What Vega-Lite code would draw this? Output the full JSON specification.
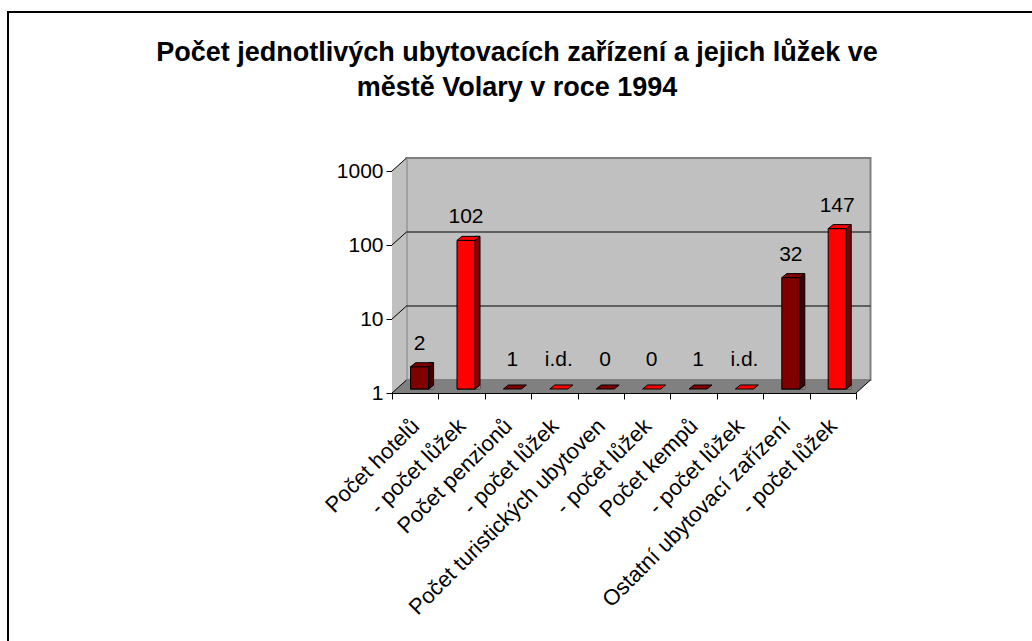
{
  "$schema": "https://vega.github.io/schema/vega-lite/v6.json",
  "width": 1030,
  "height": 639,
  "autosize": {"type": "none"},
  "padding": {"left": 8, "top": 12, "right": -6, "bottom": -10},
  "background": "white",
  "config": {"view": {"stroke": "black", "strokeWidth": 2}, "font": "Liberation Sans"},
  "title": {
    "text": ["Počet jednotlivých ubytovacích zařízení a jejich lůžek ve", "městě Volary v roce 1994"],
    "fontSize": 27, "fontWeight": "bold", "font": "Liberation Sans", "color": "black",
    "anchor": "middle", "frame": "group", "baseline": "top", "offset": -36, "dy": 54, "dx": -6, "lineHeight": 35
  },
  "datasets": {
    "bars": [
      {"cat": "Počet hotelů", "type": "count", "v": 2, "lab": "2"},
      {"cat": "- počet lůžek|1", "type": "beds", "v": 102, "lab": "102"},
      {"cat": "Počet penzionů", "type": "count", "v": 1, "lab": "1"},
      {"cat": "- počet lůžek|2", "type": "beds", "v": null, "lab": "i.d."},
      {"cat": "Počet turistických ubytoven", "type": "count", "v": 0, "lab": "0"},
      {"cat": "- počet lůžek|3", "type": "beds", "v": 0, "lab": "0"},
      {"cat": "Počet kempů", "type": "count", "v": 1, "lab": "1"},
      {"cat": "- počet lůžek|4", "type": "beds", "v": null, "lab": "i.d."},
      {"cat": "Ostatní ubytovací zařízení", "type": "count", "v": 32, "lab": "32"},
      {"cat": "- počet lůžek|5", "type": "beds", "v": 147, "lab": "147"}
    ]
  },
  "layer": [
    {
      "data": {"values": [{}]},
      "layer": [
        {
          "mark": {"type": "rect", "fill": "#C0C0C0", "stroke": "#808080", "strokeWidth": 2, "xOffset": 14.5, "x2Offset": 14.5, "yOffset": -13, "y2Offset": -13},
          "encoding": {
            "x": {"datum": 0, "type": "quantitative", "scale": {"domain": [0, 10], "range": [384, 848], "nice": false, "zero": false}, "axis": null},
            "x2": {"datum": 10},
            "y": {"datum": 1, "type": "quantitative", "scale": {"type": "log", "domain": [1, 1000], "range": [381, 159], "nice": false},
              "axis": {"values": [1, 10, 100, 1000], "format": "d", "title": null, "grid": false, "offset": -384, "tickSize": 6, "tickColor": "black", "domainColor": "black", "labelColor": "black", "labelFontSize": 21, "labelFont": "Liberation Sans", "labelPadding": 3, "labelFlush": false, "labelOverlap": false}},
            "y2": {"datum": 1000}
          }
        },
        {
          "mark": {"type": "point", "shape": "M0,0L1.45,-1.3L1.45,-23.5L0,-22.2Z", "size": 400, "filled": true, "fill": "#C0C0C0", "strokeWidth": 0, "opacity": 1},
          "encoding": {
            "x": {"datum": 0, "type": "quantitative", "scale": {"domain": [0, 10], "range": [384, 848], "nice": false, "zero": false}, "axis": null},
            "y": {"datum": 1, "type": "quantitative", "scale": {"type": "log", "domain": [1, 1000], "range": [381, 159], "nice": false}}
          }
        },
        {
          "mark": {"type": "point", "shape": "M0,0L46.4,0L47.85,-1.3L1.45,-1.3Z", "size": 400, "filled": true, "fill": "#808080", "strokeWidth": 0, "opacity": 1},
          "encoding": {
            "x": {"datum": 0, "type": "quantitative", "scale": {"domain": [0, 10], "range": [384, 848], "nice": false, "zero": false}, "axis": null},
            "y": {"datum": 1, "type": "quantitative", "scale": {"type": "log", "domain": [1, 1000], "range": [381, 159], "nice": false}}
          }
        },
        {
          "mark": {"type": "point", "shape": "M46.4,0L47.85,-1.3", "size": 400, "filled": false, "stroke": "black", "strokeWidth": 1, "opacity": 1},
          "encoding": {
            "x": {"datum": 0, "type": "quantitative", "scale": {"domain": [0, 10], "range": [384, 848], "nice": false, "zero": false}, "axis": null},
            "y": {"datum": 1, "type": "quantitative", "scale": {"type": "log", "domain": [1, 1000], "range": [381, 159], "nice": false}}
          }
        },
        {
          "data": {"values": [{"g": 10}, {"g": 100}]},
          "mark": {"type": "rule", "stroke": "black", "strokeWidth": 1, "xOffset": 14.5, "x2Offset": 14.5, "yOffset": -13},
          "encoding": {
            "x": {"datum": 0, "type": "quantitative", "scale": {"domain": [0, 10], "range": [384, 848], "nice": false, "zero": false}, "axis": null},
            "x2": {"datum": 10},
            "y": {"field": "g", "type": "quantitative", "scale": {"type": "log", "domain": [1, 1000], "range": [381, 159], "nice": false}}
          }
        },
        {
          "data": {"values": [{"g": 1}, {"g": 10}, {"g": 100}, {"g": 1000}]},
          "mark": {"type": "rule", "stroke": "black", "strokeWidth": 1, "x2Offset": 14.5, "y2Offset": -13},
          "encoding": {
            "x": {"datum": 0, "type": "quantitative", "scale": {"domain": [0, 10], "range": [384, 848], "nice": false, "zero": false}, "axis": null},
            "x2": {"datum": 0},
            "y": {"field": "g", "type": "quantitative", "scale": {"type": "log", "domain": [1, 1000], "range": [381, 159], "nice": false}},
            "y2": {"field": "g"}
          }
        }
      ]
    },
    {
      "data": {"name": "bars"},
      "encoding": {
        "x": {
          "field": "cat", "type": "nominal", "sort": null,
          "scale": {"domain": ["Počet hotelů", "- počet lůžek|1", "Počet penzionů", "- počet lůžek|2", "Počet turistických ubytoven", "- počet lůžek|3", "Počet kempů", "- počet lůžek|4", "Ostatní ubytovací zařízení", "- počet lůžek|5"], "range": [384, 848], "paddingInner": 0, "paddingOuter": 0},
          "axis": {"title": null, "labelAngle": -45, "labelFontSize": 22, "labelFont": "Liberation Sans", "labelColor": "black", "tickBand": "extent", "tickSize": 6, "tickColor": "black", "domainColor": "black", "offset": -258, "labelExpr": "split(datum.label, '|')[0]", "labelPadding": 16, "labelOffset": -7, "labelOverlap": false, "labelLimit": 0}
        }
      },
      "layer": [
        {
          "mark": {"type": "point", "shape": "M-0.9,0L0.9,0L1.4,-0.4L-0.4,-0.4Z", "size": 400, "filled": true, "stroke": "black", "strokeWidth": 1, "opacity": 1, "xOffset": 4.4, "yOffset": -4},
          "encoding": {
            "y": {"datum": 1, "type": "quantitative", "scale": {"type": "log", "domain": [1, 1000], "range": [381, 159], "nice": false}},
            "fill": {"field": "type", "type": "nominal", "scale": {"domain": ["count", "beds"], "range": ["#800000", "#FF0000"]}, "legend": null}
          }
        },
        {
          "transform": [{"filter": "datum.v > 1"}],
          "mark": {"type": "bar", "width": 5, "xOffset": 15.9, "yOffset": -8, "y2Offset": -4, "stroke": "black", "strokeWidth": 1},
          "encoding": {
            "y": {"field": "v", "type": "quantitative", "scale": {"type": "log", "domain": [1, 1000], "range": [381, 159], "nice": false}},
            "y2": {"datum": 1},
            "fill": {"condition": {"test": "datum.type === 'beds'", "value": "#800000"}, "value": "#400000"}
          }
        },
        {
          "transform": [{"filter": "datum.v > 1"}],
          "mark": {"type": "point", "shape": "M0.9,0.05L1.45,-0.4L1.45,0.05Z", "size": 400, "filled": true, "fill": "#808080", "strokeWidth": 0, "opacity": 1, "xOffset": 4.4, "yOffset": -4},
          "encoding": {
            "y": {"datum": 1, "type": "quantitative", "scale": {"type": "log", "domain": [1, 1000], "range": [381, 159], "nice": false}}
          }
        },
        {
          "transform": [{"filter": "datum.v > 1"}],
          "mark": {"type": "point", "shape": "M0.9,0L1.4,-0.4", "size": 400, "filled": false, "stroke": "black", "strokeWidth": 1, "opacity": 1, "xOffset": 4.4, "yOffset": -4},
          "encoding": {
            "y": {"datum": 1, "type": "quantitative", "scale": {"type": "log", "domain": [1, 1000], "range": [381, 159], "nice": false}}
          }
        },
        {
          "transform": [{"filter": "datum.v > 1"}],
          "mark": {"type": "bar", "width": 18, "xOffset": 4.4, "yOffset": -4, "y2Offset": -4, "stroke": "black", "strokeWidth": 1},
          "encoding": {
            "y": {"field": "v", "type": "quantitative", "scale": {"type": "log", "domain": [1, 1000], "range": [381, 159], "nice": false}},
            "y2": {"datum": 1},
            "fill": {"field": "type", "type": "nominal", "scale": {"domain": ["count", "beds"], "range": ["#800000", "#FF0000"]}, "legend": null}
          }
        },
        {
          "transform": [{"filter": "datum.v > 1"}],
          "mark": {"type": "point", "shape": "M-0.9,0L0.9,0L1.4,-0.4L-0.4,-0.4Z", "size": 400, "filled": true, "stroke": "black", "strokeWidth": 1, "opacity": 1, "xOffset": 4.4, "yOffset": -4},
          "encoding": {
            "y": {"field": "v", "type": "quantitative", "scale": {"type": "log", "domain": [1, 1000], "range": [381, 159], "nice": false}},
            "fill": {"field": "type", "type": "nominal", "scale": {"domain": ["count", "beds"], "range": ["#800000", "#FF0000"]}, "legend": null}
          }
        },
        {
          "transform": [{"filter": "datum.v > 1"}],
          "mark": {"type": "text", "fontSize": 21, "font": "Liberation Sans", "color": "black", "align": "center", "baseline": "alphabetic", "xOffset": 4.4, "yOffset": -21},
          "encoding": {
            "y": {"field": "v", "type": "quantitative", "scale": {"type": "log", "domain": [1, 1000], "range": [381, 159], "nice": false}},
            "text": {"field": "lab"}
          }
        },
        {
          "transform": [{"filter": "!(datum.v > 1)"}],
          "mark": {"type": "text", "fontSize": 21, "font": "Liberation Sans", "color": "black", "align": "center", "baseline": "alphabetic", "xOffset": 4.4, "yOffset": -27},
          "encoding": {
            "y": {"datum": 1, "type": "quantitative", "scale": {"type": "log", "domain": [1, 1000], "range": [381, 159], "nice": false}},
            "text": {"field": "lab"}
          }
        }
      ]
    }
  ],
  "resolve": {"scale": {"x": "independent"}, "axis": {"x": "independent"}}
}
